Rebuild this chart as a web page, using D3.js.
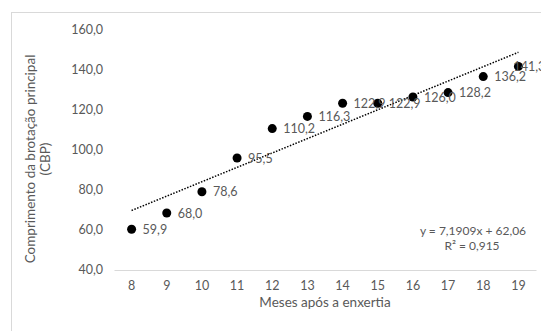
<!DOCTYPE html>
<html><head><meta charset="utf-8">
<script src="https://cdn.jsdelivr.net/npm/d3@7"></script>
<style>
html,body{margin:0;padding:0;background:#fff;overflow:hidden}
text{font-family:Lato,"Open Sans",sans-serif;fill:#595959}
</style></head>
<body><svg id="c" width="541" height="331"></svg>
<script>
const months = [8,9,10,11,12,13,14,15,16,17,18,19];
const cbp = [59.9,68.0,78.6,95.5,110.2,116.3,122.9,122.9,126.0,128.2,136.2,141.3];
const yTicks = [40,60,80,100,120,140,160];
const trendSlope = 7.1909, trendIntercept = 62.06, r2 = 0.915;

const svg = d3.select("#c");
svg.append("rect").attr("x",11.5).attr("y",12.5).attr("width",620).attr("height",420)
  .attr("fill","#fff").attr("stroke","#d9d9d9");

const x = d3.scaleBand().domain(months).range([114,536]);
const y = d3.scaleLinear().domain([40,160]).range([269,29]);
const cx = m => x(m) + x.bandwidth()/2;
const fmt = v => d3.format(".1f")(v).replace(".", ",");

// x axis
const xa = svg.append("g").attr("transform","translate(0,270)")
  .call(d3.axisBottom(x).tickSize(0).tickPadding(11));
xa.select(".domain").attr("stroke","#d9d9d9");
xa.selectAll("text").style("font-size","12.5px").style("fill","#595959").style("font-family","Lato, sans-serif");

// y axis
const ya = svg.append("g").attr("transform","translate(103,0)")
  .call(d3.axisLeft(y).tickValues(yTicks).tickSize(0).tickPadding(0).tickFormat(fmt));
ya.select(".domain").remove();
ya.selectAll("text").style("font-size","12.5px").style("fill","#595959").style("font-family","Lato, sans-serif");

// trendline
const i0 = 1, i1 = months.length;
svg.append("line")
  .attr("x1", cx(months[0])).attr("y1", y(trendSlope*i0+trendIntercept))
  .attr("x2", cx(months[months.length-1])).attr("y2", y(trendSlope*i1+trendIntercept))
  .attr("stroke","#000").attr("stroke-width",1.5).attr("stroke-dasharray","1.5,1.5");

// points
svg.selectAll("circle.p").data(months).enter().append("circle")
  .attr("cx", m => cx(m)).attr("cy",(m,i)=>y(cbp[i])).attr("r",4.5).attr("fill","#000");

// labels
svg.selectAll("text.l").data(months).enter().append("text")
  .attr("x",(m,i)=> i===months.length-1 ? cx(m)-5 : cx(m)+11)
  .attr("y",(m,i)=>y(cbp[i])+4.5)
  .style("font-size","12.5px")
  .text((m,i)=>fmt(cbp[i]));

// equation
svg.append("text").attr("x",473).attr("y",235).attr("text-anchor","middle").style("font-size","12px")
  .text("y = " + String(trendSlope).replace(".",",") + "x + " + String(trendIntercept).replace(".",","));
svg.append("text").attr("x",472).attr("y",250).attr("text-anchor","middle").style("font-size","12px")
  .text("R² = " + String(r2).replace(".",","));

// titles
svg.append("text").attr("x",325).attr("y",307).attr("text-anchor","middle").style("font-size","13.5px")
  .text("Meses após a enxertia");
const yt = svg.append("text").attr("transform","translate(35,159) rotate(-90)").attr("text-anchor","middle").style("font-size","13.5px");
yt.append("tspan").attr("x",0).attr("dy",0).text("Comprimento da brotação principal");
yt.append("tspan").attr("x",0).attr("dy",15).text("(CBP)");
</script></body></html>
